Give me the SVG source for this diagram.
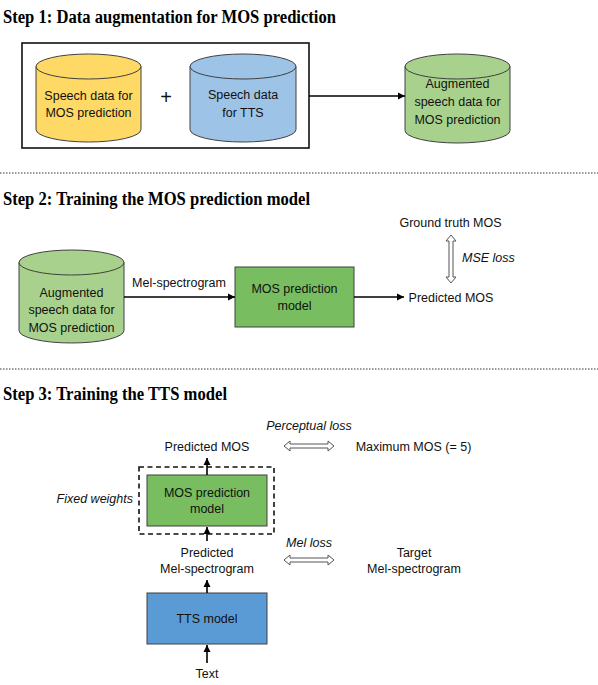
<svg xmlns="http://www.w3.org/2000/svg" width="598" height="685" viewBox="0 0 598 685">
<defs>
<style>
.t{font-family:"Liberation Sans",Arial,sans-serif;font-size:12.5px;fill:#111;text-anchor:middle}
.i{font-style:italic}
.h{font-family:"Liberation Serif","Times New Roman",serif;font-size:18px;font-weight:bold;fill:#000}
.cyl{stroke:#404040;stroke-width:1}
.ln{stroke:#000;stroke-width:1.6;fill:none}
.dbl{fill:#fff;stroke:#555;stroke-width:1}
.dot{stroke:#333;stroke-width:1;stroke-dasharray:1.5 1.5}
</style>
<marker id="ah" viewBox="0 0 10 10" refX="10" refY="5" markerWidth="4.5" markerHeight="4.5" orient="auto" markerUnits="strokeWidth">
<path d="M0,0 L10,5 L0,10 Z" fill="#000"/>
</marker>
</defs>
<rect width="598" height="685" fill="#fff"/>

<text class="h" x="3" y="23" textLength="333" lengthAdjust="spacingAndGlyphs">Step 1: Data augmentation for MOS prediction</text>
<text class="h" x="3" y="205" textLength="307" lengthAdjust="spacingAndGlyphs">Step 2: Training the MOS prediction model</text>
<text class="h" x="3" y="400" textLength="224" lengthAdjust="spacingAndGlyphs">Step 3: Training the TTS model</text>

<line class="dot" x1="0" y1="173" x2="598" y2="173"/>
<line class="dot" x1="0" y1="369" x2="598" y2="369"/>

<g id="group1">
<rect x="22" y="43" width="287" height="105" fill="none" stroke="#111" stroke-width="1.6"/>
</g>

<g id="cyl-mos">
<path class="cyl" fill="#ffd966" d="M36,66.5 A52.5,12.5 0 0 1 141,66.5 L141,129.5 A52.5,12.5 0 0 1 36,129.5 Z"/>
<path class="cyl" fill="none" d="M36,66.5 A52.5,12.5 0 0 0 141,66.5"/>
<text class="t" x="88.5" y="100">Speech data for</text>
<text class="t" x="88.5" y="117">MOS prediction</text>
</g>

<g id="plus"><text class="t" x="166" y="104" style="font-size:20px">+</text></g>

<g id="cyl-tts">
<path class="cyl" fill="#9dc3e6" d="M190,66.5 A53,12.5 0 0 1 296,66.5 L296,129.5 A53,12.5 0 0 1 190,129.5 Z"/>
<path class="cyl" fill="none" d="M190,66.5 A53,12.5 0 0 0 296,66.5"/>
<text class="t" x="243" y="99">Speech data</text>
<text class="t" x="243" y="117">for TTS</text>
</g>

<g id="cyl-aug1">
<path class="cyl" fill="#a9d18e" d="M405,66.5 A52.5,12.5 0 0 1 510,66.5 L510,130.5 A52.5,12.5 0 0 1 405,130.5 Z"/>
<path class="cyl" fill="none" d="M405,66.5 A52.5,12.5 0 0 0 510,66.5"/>
<text class="t" x="457.5" y="88">Augmented</text>
<text class="t" x="457.5" y="106">speech data for</text>
<text class="t" x="457.5" y="124">MOS prediction</text>
</g>

<g id="cyl-aug2">
<path class="cyl" fill="#a9d18e" d="M19,262.5 A52.5,12.5 0 0 1 124,262.5 L124,330.5 A52.5,12.5 0 0 1 19,330.5 Z"/>
<path class="cyl" fill="none" d="M19,262.5 A52.5,12.5 0 0 0 124,262.5"/>
<text class="t" x="71.5" y="297">Augmented</text>
<text class="t" x="71.5" y="314">speech data for</text>
<text class="t" x="71.5" y="332">MOS prediction</text>
</g>

<g id="mos-model2">
<rect x="235" y="267" width="119" height="60" fill="#78bd5f" stroke="#404040" stroke-width="1"/>
<text class="t" x="294.5" y="293">MOS prediction</text>
<text class="t" x="294.5" y="310">model</text>
</g>

<g id="pred-mos2"><text class="t" x="451" y="302">Predicted MOS</text></g>
<g id="gt-mos"><text class="t" x="450.5" y="227">Ground truth MOS</text></g>
<g id="mse-label"><text class="t i" x="462" y="262" style="text-anchor:start">MSE loss</text></g>

<g id="fixed">
<rect x="139" y="467" width="135" height="67" fill="none" stroke="#111" stroke-width="1.6" stroke-dasharray="5 3.5"/>
<text class="t i" x="133" y="503" style="text-anchor:end">Fixed weights</text>
</g>
<g id="mos-model3">
<rect x="147" y="475" width="120" height="51" fill="#78bd5f" stroke="#404040" stroke-width="1"/>
<text class="t" x="207" y="497">MOS prediction</text>
<text class="t" x="207" y="513">model</text>
</g>
<g id="pred-mos3"><text class="t" x="207" y="451">Predicted MOS</text></g>
<g id="max-mos"><text class="t" x="413.5" y="451">Maximum MOS (= 5)</text></g>
<g id="perc-label"><text class="t i" x="309" y="430">Perceptual loss</text></g>
<g id="pred-mel"><text class="t" x="207" y="557">Predicted</text><text class="t" x="207" y="573">Mel-spectrogram</text></g>
<g id="target-mel"><text class="t" x="414" y="557">Target</text><text class="t" x="414" y="573">Mel-spectrogram</text></g>
<g id="mel-label"><text class="t i" x="309" y="547">Mel loss</text></g>
<g id="tts">
<rect x="147" y="593" width="120" height="51" fill="#5b9bd5" stroke="#404040" stroke-width="1"/>
<text class="t" x="207" y="623">TTS model</text>
</g>
<g id="text-in"><text class="t" x="207" y="678">Text</text></g>

<g id="connectors">
<line class="ln" x1="309" y1="96" x2="405" y2="96" marker-end="url(#ah)"/>
<line class="ln" x1="124" y1="297" x2="235" y2="297" marker-end="url(#ah)"/>
<text class="t" x="179" y="287">Mel-spectrogram</text>
<line class="ln" x1="354" y1="297" x2="404" y2="297" marker-end="url(#ah)"/>
<polygon class="dbl" points="451,235 456,241 453,241 453,277 456,277 451,283 446,277 449,277 449,241 446,241"/>
<polygon class="dbl" points="284,446 290,441 290,444 328,444 328,441 334,446 328,451 328,448 290,448 290,451"/>
<polygon class="dbl" points="284,560 290,555 290,558 328,558 328,555 334,560 328,565 328,562 290,562 290,565"/>
<line class="ln" x1="207" y1="475" x2="207" y2="458" marker-end="url(#ah)"/>
<line class="ln" x1="207" y1="541" x2="207" y2="527" marker-end="url(#ah)"/>
<line class="ln" x1="207" y1="593" x2="207" y2="580" marker-end="url(#ah)"/>
<line class="ln" x1="207" y1="663" x2="207" y2="645" marker-end="url(#ah)"/>
</g>
</svg>
